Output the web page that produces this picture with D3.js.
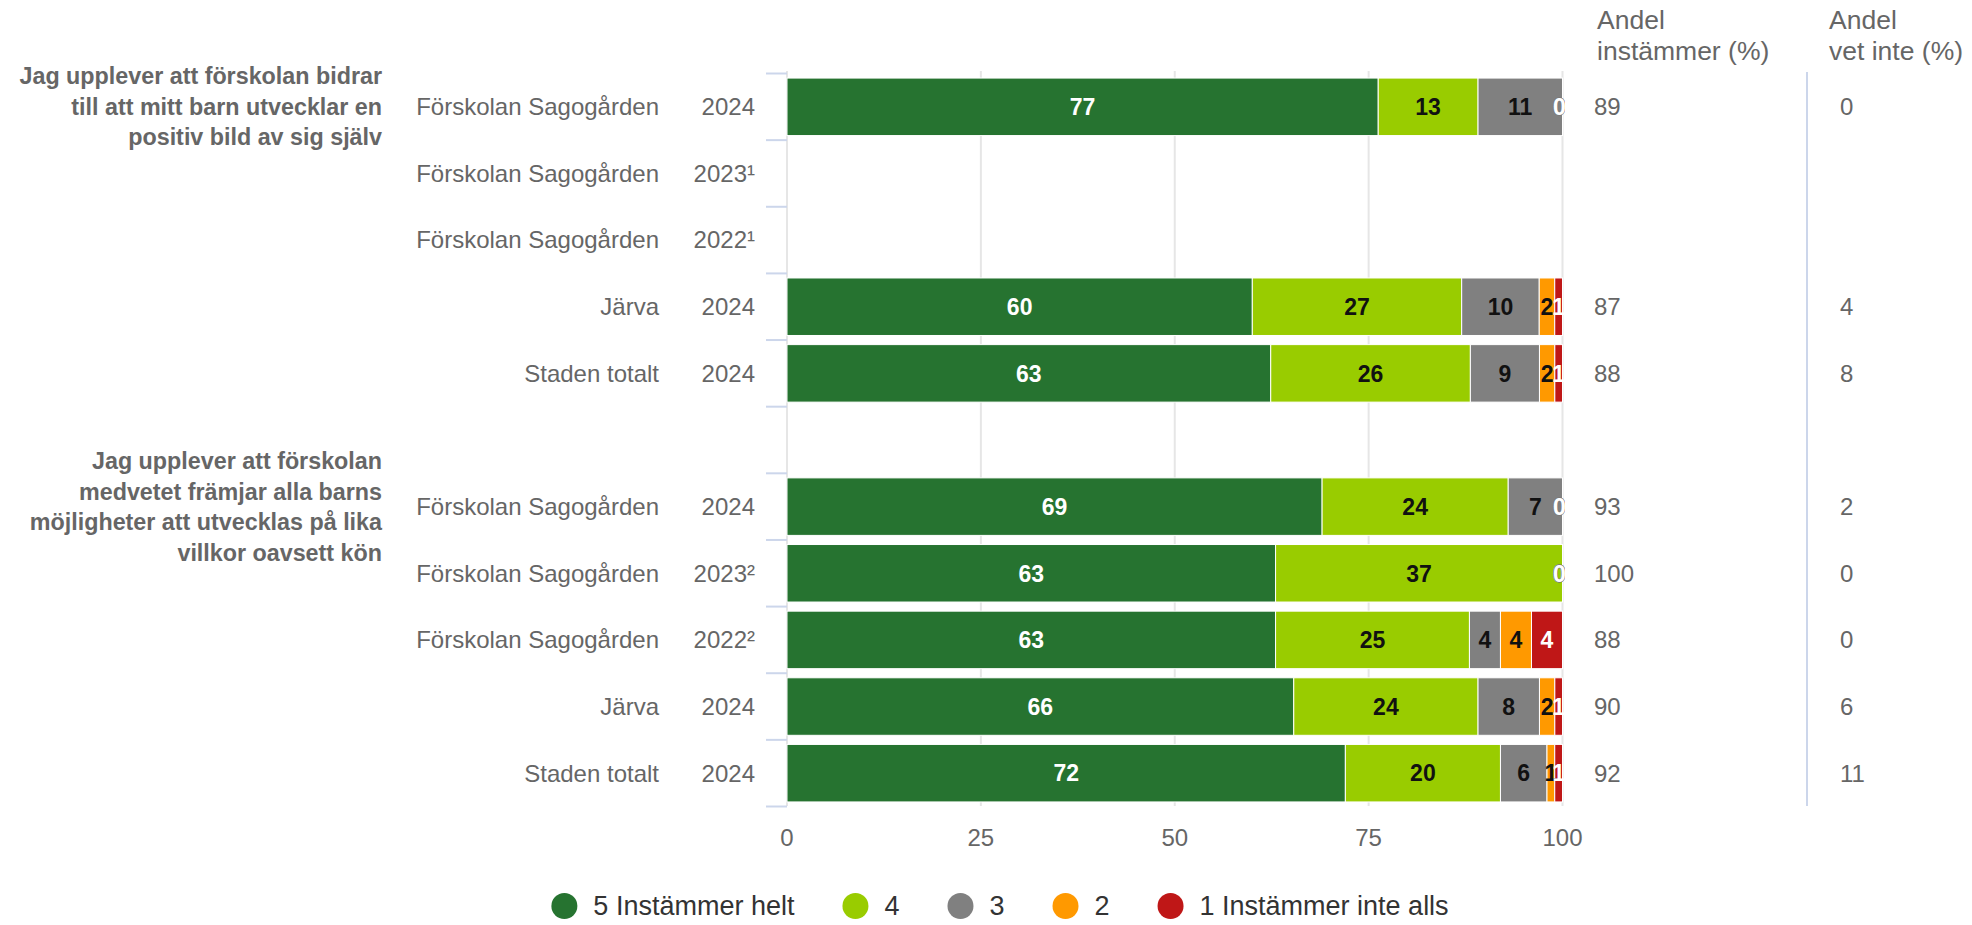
<!DOCTYPE html>
<html>
<head>
<meta charset="utf-8">
<script src="https://cdn.jsdelivr.net/npm/d3@7/dist/d3.min.js"></script>
<style>
  html, body { margin: 0; padding: 0; background: #fff; }
  svg { display: block; font-family: "Liberation Sans", Arial, Helvetica, sans-serif; }
</style>
</head>
<body>
<svg id="chart" width="1972" height="925"></svg>
<script>
// ---------------- DATA ----------------
const categories = [
  "Förskolan Sagogården", "Förskolan Sagogården", "Förskolan Sagogården", "Järva", "Staden totalt",
  "",
  "Förskolan Sagogården", "Förskolan Sagogården", "Förskolan Sagogården", "Järva", "Staden totalt"
];
const years = ["2024", "2023¹", "2022¹", "2024", "2024", "", "2024", "2023²", "2022²", "2024", "2024"];
const seriesNames = ["5 Instämmer helt", "4", "3", "2", "1 Instämmer inte alls"];
const s5 = [77, null, null, 60, 63, null, 69, 63, 63, 66, 72];
const s4 = [13, null, null, 27, 26, null, 24, 37, 25, 24, 20];
const s3 = [11, null, null, 10, 9, null, 7, 0, 4, 8, 6];
const s2 = [0, null, null, 2, 2, null, 0, 0, 4, 2, 1];
const s1 = [0, null, null, 1, 1, null, 0, 0, 4, 1, 1];
const andelInstammer = [89, null, null, 87, 88, null, 93, 100, 88, 90, 92];
const andelVetInte = [0, null, null, 4, 8, null, 2, 0, 0, 6, 11];
const questions = [
  { row: 0, lines: ["Jag upplever att förskolan bidrar", "till att mitt barn utvecklar en", "positiv bild av sig själv"] },
  { row: 6, lines: ["Jag upplever att förskolan", "medvetet främjar alla barns", "möjligheter att utvecklas på lika", "villkor oavsett kön"] }
];
const xTicks = [0, 25, 50, 75, 100];
const headerInstammer = ["Andel", "instämmer (%)"];
const headerVetInte = ["Andel", "vet inte (%)"];

// ---------------- STYLE ----------------
const colors = ["#267330", "#99cc00", "#808080", "#ff9900", "#bf1717"];
const labelColors = ["#ffffff", "#111111", "#111111", "#111111", "#ffffff"];

const svg = d3.select("#chart");
const plotLeft = 787, plotRight = 1562.5, plotTop = 71, plotBottom = 806;

const x = d3.scaleLinear().domain([0, 100]).range([plotLeft, plotRight]);
const y = d3.scaleBand().domain(d3.range(categories.length)).range([73.5, 806.5]);
const barH = 57.5;

// gridlines
svg.append("g").selectAll("line").data(xTicks).join("line")
  .attr("x1", d => x(d)).attr("x2", d => x(d))
  .attr("y1", plotTop).attr("y2", plotBottom)
  .attr("stroke", "#e6e6e6").attr("stroke-width", 2);

// category ticks on y-axis
const tickYs = d3.range(categories.length + 1).map(i => i < categories.length ? y(i) : y(categories.length - 1) + y.bandwidth());
svg.append("g").selectAll("line").data(tickYs).join("line")
  .attr("x1", 766).attr("x2", plotLeft)
  .attr("y1", d => d).attr("y2", d => d)
  .attr("stroke", "#ccd6eb").attr("stroke-width", 2);

// right divider line
svg.append("line").attr("x1", 1807).attr("x2", 1807).attr("y1", 72).attr("y2", 806)
  .attr("stroke", "#ccd6eb").attr("stroke-width", 2);

// stacked data (percent stacking)
const seriesVals = [s5, s4, s3, s2, s1];
const rows = categories.map((c, i) => {
  const vals = seriesVals.map(s => s[i]);
  if (vals.some(v => v === null)) return null;
  const total = d3.sum(vals);
  let acc = 0;
  return vals.map((v, k) => {
    const seg = { row: i, k, v, x0: acc / total * 100, x1: (acc + v) / total * 100 };
    acc += v;
    return seg;
  });
}).filter(r => r);
const segs = rows.flat();

// bars
svg.append("g").selectAll("rect").data(segs.filter(d => d.v > 0)).join("rect")
  .attr("x", d => x(d.x0)).attr("width", d => x(d.x1) - x(d.x0))
  .attr("y", d => y(d.row) + (y.bandwidth() - barH) / 2).attr("height", barH)
  .attr("fill", d => colors[d.k])
  .attr("stroke", "#ffffff").attr("stroke-width", 1);

// data labels (clipped to plot area)
svg.append("clipPath").attr("id", "plotClip").append("rect")
  .attr("x", plotLeft).attr("y", 0).attr("width", 1565 - plotLeft).attr("height", 925);
svg.append("g").attr("clip-path", "url(#plotClip)")
  .selectAll("text").data(segs).join("text")
  .attr("x", d => d.v === 0 ? x(100) - 3 : x((d.x0 + d.x1) / 2))
  .attr("y", d => y(d.row) + y.bandwidth() / 2)
  .attr("dy", "0.36em")
  .attr("text-anchor", "middle")
  .attr("font-size", 23).attr("font-weight", "bold")
  .attr("fill", d => d.v === 0 ? "#ffffff" : labelColors[d.k])
  .attr("stroke", d => d.v === 0 ? "#777" : "none")
  .attr("stroke-width", 0.8)
  .attr("paint-order", "stroke")
  .text(d => d.v);

// category labels
const labelG = svg.append("g").attr("font-size", 24).attr("fill", "#666666");
labelG.selectAll("text.cat").data(categories).join("text").attr("class", "cat")
  .attr("x", 659).attr("y", (d, i) => y(i) + y.bandwidth() / 2).attr("dy", "0.35em")
  .attr("text-anchor", "end").text(d => d);
labelG.selectAll("text.yr").data(years).join("text").attr("class", "yr")
  .attr("x", 755).attr("y", (d, i) => y(i) + y.bandwidth() / 2).attr("dy", "0.35em")
  .attr("text-anchor", "end").text(d => d);

// question labels
questions.forEach(q => {
  const cy = y(q.row) + y.bandwidth() / 2;
  const lh = 30.5;
  const n = q.lines.length;
  svg.append("text").attr("font-size", 23.3).attr("font-weight", "bold").attr("fill", "#666666")
    .attr("text-anchor", "end")
    .selectAll("tspan").data(q.lines).join("tspan")
    .attr("x", 382).attr("y", (d, i) => cy + (i - (n - 1) / 2) * lh).attr("dy", "0.35em")
    .text(d => d);
});

// x axis labels
svg.append("g").selectAll("text").data(xTicks).join("text")
  .attr("x", d => x(d)).attr("y", 838).attr("dy", "0.35em")
  .attr("text-anchor", "middle").attr("font-size", 24).attr("fill", "#666666")
  .text(d => d);

// right columns
const colG = svg.append("g").attr("font-size", 24).attr("fill", "#666666");
colG.selectAll("text.ai").data(andelInstammer).join("text").attr("class", "ai")
  .attr("x", 1594).attr("y", (d, i) => y(i) + y.bandwidth() / 2).attr("dy", "0.35em")
  .text(d => d === null ? "" : d);
colG.selectAll("text.vi").data(andelVetInte).join("text").attr("class", "vi")
  .attr("x", 1840).attr("y", (d, i) => y(i) + y.bandwidth() / 2).attr("dy", "0.35em")
  .text(d => d === null ? "" : d);

// headers
[[headerInstammer, 1597], [headerVetInte, 1829]].forEach(([lines, hx]) => {
  svg.append("text").attr("font-size", 26.5).attr("fill", "#666666")
    .selectAll("tspan").data(lines).join("tspan")
    .attr("x", hx).attr("y", (d, i) => 29 + i * 31).text(d => d);
});

// legend
const legend = svg.append("g");
const items = legend.selectAll("g").data(seriesNames).join("g");
items.append("circle").attr("r", 13).attr("cy", 906).attr("fill", (d, i) => colors[i]);
items.append("text").attr("y", 906).attr("dy", "0.35em").attr("font-size", 27).attr("fill", "#333333")
  .text(d => d);
const widths = [];
items.each(function () {
  widths.push(d3.select(this).select("text").node().getComputedTextLength());
});
const total = d3.sum(widths) + widths.length * 29 + (widths.length - 1) * 61 + 13;
let cx = 1000 - total / 2 + 13;
items.each(function (d, i) {
  const g = d3.select(this);
  g.select("circle").attr("cx", cx);
  g.select("text").attr("x", cx + 29);
  cx = cx + 29 + widths[i] + 61;
});
</script>
</body>
</html>
